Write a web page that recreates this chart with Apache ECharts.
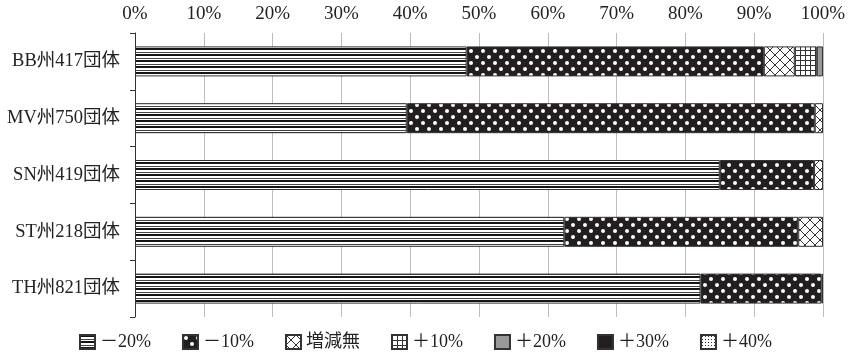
<!DOCTYPE html>
<html><head><meta charset="utf-8">
<script src="https://cdn.jsdelivr.net/npm/echarts@6/dist/echarts.min.js"></script>
<style>html,body{margin:0;padding:0;background:#fff}#c{width:853px;height:352px}</style>
</head><body><div id="c"></div>
<script>
// ---- data ----
const categories = ['BB州417団体', 'MV州750団体', 'SN州419団体', 'ST州218団体', 'TH州821団体'];
const seriesNames = ['－20%', '－10%', '増減無', '＋10%', '＋20%', '＋30%', '＋40%'];
const minus20 = [48.2, 39.5, 85.0, 62.4, 82.2];
const minus10 = [43.2, 59.3, 13.7, 34.0, 17.6];
const noChange = [4.5, 1.2, 1.3, 3.6, 0.2];
const plus10 = [3.2, 0, 0, 0, 0];
const plus20 = [0.9, 0, 0, 0, 0];
const plus30 = [0, 0, 0, 0, 0];
const plus40 = [0, 0, 0, 0, 0];
const xTicks = { min: 0, max: 100, interval: 10 };

// ---- patterns ----
function tile(w, h, draw) {
  const c = document.createElement('canvas'); c.width = w; c.height = h;
  const g = c.getContext('2d'); draw(g, w, h);
  return { image: c, repeat: 'repeat' };
}
const pats = [
  tile(4, 6, (g, w, h) => { g.fillStyle = '#fff'; g.fillRect(0, 0, w, h);
    g.fillStyle = '#151515'; g.fillRect(0, 0, w, 2); g.fillStyle = '#444'; g.fillRect(0, 4, w, 1); }),
  tile(12, 12, (g, w, h) => { g.fillStyle = '#231f20'; g.fillRect(0, 0, w, h); g.fillStyle = '#fff';
    [[3, 3], [9, 9]].forEach(p => { g.beginPath(); g.arc(p[0], p[1], 2.0, 0, Math.PI * 2); g.fill(); }); }),
  tile(10, 10, (g, w, h) => { g.fillStyle = '#fff'; g.fillRect(0, 0, w, h); g.strokeStyle = '#333'; g.lineWidth = 1;
    g.beginPath(); g.moveTo(0, 0); g.lineTo(w, h); g.moveTo(w, 0); g.lineTo(0, h); g.stroke(); }),
  tile(5, 5, (g, w, h) => { g.fillStyle = '#fff'; g.fillRect(0, 0, w, h); g.fillStyle = '#333';
    g.fillRect(0, 0, 1, h); g.fillRect(0, 0, w, 1); }),
  '#999999',
  '#231f20',
  tile(3, 3, (g, w, h) => { g.fillStyle = '#fff'; g.fillRect(0, 0, w, h); g.fillStyle = '#333'; g.fillRect(1, 1, 1, 1); })
];

const values = [minus20, minus10, noChange, plus10, plus20, plus30, plus40];
const font = '"Liberation Serif", "DejaVu Serif", "Noto Sans CJK JP", serif';

const chart = echarts.init(document.getElementById('c'), null, { renderer: 'canvas' });
chart.setOption({
  animation: false,
  backgroundColor: '#fff',
  textStyle: { fontFamily: font, color: '#222' },
  grid: { left: 135, right: 30, top: 33, bottom: 35, containLabel: false },
  legend: {
    top: 328, left: 74, icon: 'rect', itemWidth: 15, itemHeight: 14, itemGap: 31,
    textStyle: { fontFamily: font, fontSize: 18, color: '#222' },
    data: seriesNames
  },
  xAxis: {
    type: 'value', position: 'top', min: xTicks.min, max: xTicks.max, interval: xTicks.interval,
    axisLine: { show: false }, axisTick: { show: false },
    axisLabel: { formatter: '{value}%', fontFamily: font, fontSize: 19, color: '#222', margin: 9 },
    splitLine: { show: true, lineStyle: { color: '#bdbdbd', width: 1 } }
  },
  yAxis: {
    type: 'category', inverse: true, data: categories,
    axisLine: { show: true, lineStyle: { color: '#333', width: 1 } },
    axisTick: { show: true, length: 5, lineStyle: { color: '#333' } },
    axisLabel: { fontFamily: font, fontSize: 18.5, color: '#222', margin: 15 }
  },
  series: seriesNames.map((n, i) => ({
    name: n, type: 'bar', stack: 'total', barWidth: 30,
    itemStyle: { color: pats[i], borderColor: '#333', borderWidth: 1 },
    data: values[i].map(v => v === 0 ? '-' : v)
  }))
});
</script></body></html>
